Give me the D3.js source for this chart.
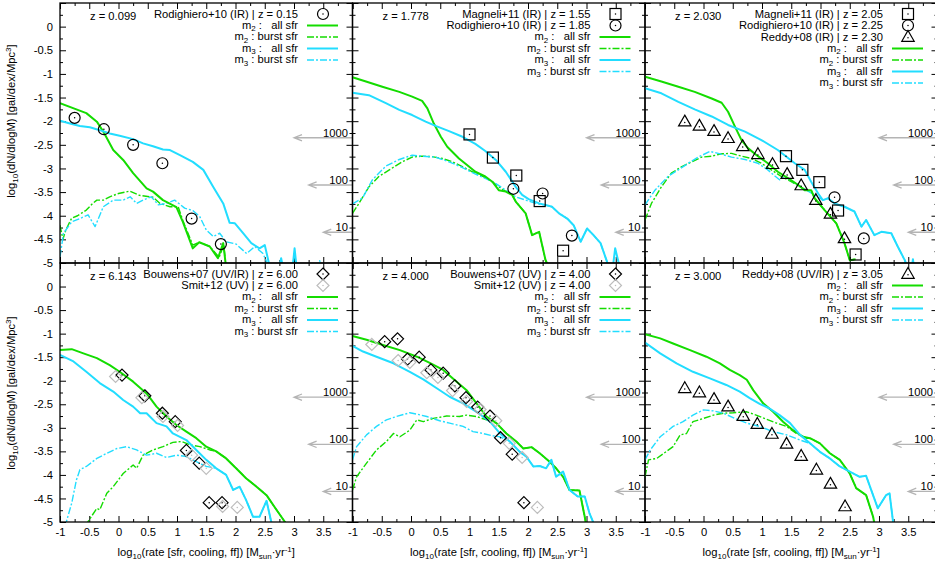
<!DOCTYPE html>
<html><head><meta charset="utf-8">
<script src="https://cdn.jsdelivr.net/npm/d3@7/dist/d3.min.js"></script>
<style>
body{margin:0;background:#fff}
svg text{font-family:"Liberation Sans",Arial,Helvetica,sans-serif;font-size:11.2px;fill:#000;white-space:pre}
</style>
</head><body>
<svg id="chart" width="935" height="563" xml:space="preserve"></svg>
<script>
// ---------------- DATA ----------------
const xTicks = [-1,-0.5,0,0.5,1,1.5,2,2.5,3,3.5,4];
const xTickLabels = [-1,-0.5,0,0.5,1,1.5,2,2.5,3,3.5];
const yTicks = [0.5,0,-0.5,-1,-1.5,-2,-2.5,-3,-3.5,-4,-4.5,-5];
const yTickLabels = [0,-0.5,-1,-1.5,-2,-2.5,-3,-3.5,-4,-4.5,-5];
const countLabels = ["1000","100","10"];
const countLabelY = [-2.25,-3.25,-4.25];
const countArrowY = [-2.35,-3.35,-4.35];
const countArrowHeadX = [3.0,3.25,3.5];

// z = 0.099
const z0099_m2All = [[-1,-1.62],[-0.72,-1.75],[-0.55,-1.83],[-0.37,-2.01],[-0.26,-2.22],[-0.09,-2.61],[0.08,-2.82],[0.25,-3.10],[0.48,-3.42],[0.59,-3.49],[0.76,-3.67],[0.99,-3.82],[1.10,-4.13],[1.27,-4.69],[1.38,-4.56],[1.56,-4.65],[1.70,-4.90],[1.79,-4.58],[1.84,-5.1]];
const z0099_m2Burst = [[-1,-4.20],[-0.95,-4.50],[-0.90,-4.30],[-0.80,-4.05],[-0.70,-4.00],[-0.55,-3.88],[-0.45,-3.75],[-0.37,-3.67],[-0.26,-3.67],[-0.15,-3.60],[0.0,-3.53],[0.19,-3.48],[0.36,-3.57],[0.59,-3.61],[0.71,-3.74],[0.88,-3.81],[1.02,-3.81],[1.10,-4.10],[1.27,-4.62],[1.38,-4.56],[1.56,-4.65],[1.72,-4.88],[1.80,-4.62],[1.84,-5.1]];
const z0099_m3All = [[-1,-1.99],[-0.83,-2.05],[-0.66,-2.10],[-0.49,-2.13],[-0.32,-2.19],[-0.15,-2.26],[0.02,-2.31],[0.25,-2.38],[0.42,-2.47],[0.59,-2.53],[0.76,-2.60],[0.88,-2.61],[1.05,-2.72],[1.27,-2.86],[1.45,-3.03],[1.62,-3.39],[1.79,-3.74],[1.90,-4.15],[1.99,-4.16],[2.13,-4.37],[2.27,-4.58],[2.41,-4.69],[2.50,-4.62],[2.58,-5.05],[2.70,-5.4],[2.78,-4.90],[2.86,-5.4],[2.95,-5.4],[3.01,-4.69],[3.07,-5.4]];
const z0099_m3Burst = [[-1,-4.87],[-0.94,-4.37],[-0.80,-4.13],[-0.66,-4.06],[-0.52,-3.98],[-0.40,-4.23],[-0.26,-3.81],[-0.09,-3.67],[0.08,-3.67],[0.20,-3.60],[0.31,-3.74],[0.42,-3.67],[0.56,-3.60],[0.68,-3.77],[0.82,-3.74],[0.96,-3.67],[1.13,-3.84],[1.27,-3.89],[1.39,-4.02],[1.50,-4.30],[1.62,-4.44],[1.73,-4.37],[1.84,-4.55],[2.01,-4.60],[2.19,-4.80],[2.33,-4.65],[2.47,-4.80],[2.56,-5.05],[2.70,-5.4],[3.40,-5.4],[3.44,-4.95],[3.48,-5.4]];
const rodi015_x = [-0.75,-0.25,0.25,0.75,1.25,1.75];
const rodi015_y = [-1.93,-2.17,-2.50,-2.89,-4.06,-4.60];

// z = 1.778
const z1778_m2All = [[-1,-1.07],[-0.77,-1.16],[-0.49,-1.27],[-0.20,-1.38],[0.02,-1.48],[0.19,-1.57],[0.28,-1.73],[0.39,-2.05],[0.51,-2.33],[0.62,-2.54],[0.82,-2.79],[0.99,-2.96],[1.10,-3.07],[1.27,-3.17],[1.39,-3.28],[1.50,-3.46],[1.62,-3.49],[1.73,-3.56],[1.79,-3.70],[1.96,-3.95],[2.07,-4.41],[2.19,-4.34],[2.30,-4.94],[2.36,-5.1]];
const z1778_m2Burst = [[-1,-3.95],[-0.89,-3.74],[-0.72,-3.39],[-0.55,-3.17],[-0.37,-3.03],[-0.15,-2.86],[0.02,-2.76],[0.19,-2.74],[0.36,-2.75],[0.54,-2.79],[0.71,-2.86],[0.88,-2.96],[1.05,-3.07],[1.22,-3.16],[1.39,-3.28],[1.56,-3.44],[1.73,-3.56],[1.79,-3.70],[1.96,-3.95],[2.07,-4.41],[2.19,-4.34],[2.30,-4.94],[2.36,-5.1]];
const z1778_m3All = [[-1,-1.40],[-0.72,-1.45],[-0.43,-1.62],[-0.20,-1.76],[0.02,-1.87],[0.25,-2.01],[0.42,-2.10],[0.65,-2.21],[0.88,-2.33],[1.10,-2.48],[1.27,-2.63],[1.45,-2.82],[1.62,-3.07],[1.79,-3.39],[1.90,-3.56],[2.01,-3.65],[2.19,-3.74],[2.30,-3.77],[2.41,-3.81],[2.53,-3.95],[2.67,-4.06],[2.78,-4.20],[2.90,-4.55],[3.01,-4.27],[3.12,-4.41],[3.24,-4.58],[3.35,-4.97],[3.42,-5.4],[3.49,-4.69],[3.57,-5.1]];
const z1778_m3Burst = [[-1,-3.75],[-0.83,-3.63],[-0.66,-3.24],[-0.43,-2.95],[-0.20,-2.81],[0.02,-2.72],[0.19,-2.74],[0.42,-2.76],[0.65,-2.86],[0.88,-2.98],[1.05,-3.09],[1.27,-3.21],[1.45,-3.32],[1.62,-3.46],[1.79,-3.60],[1.96,-3.67],[2.13,-3.74],[2.27,-3.77],[2.41,-3.81],[2.53,-3.95],[2.67,-4.06],[2.78,-4.20],[2.90,-4.55],[3.01,-4.27],[3.12,-4.41],[3.24,-4.58],[3.35,-4.97],[3.42,-5.4]];
const magn155_x = [1.0,1.4,1.8,2.2,2.6];
const magn155_y = [-2.28,-2.77,-3.15,-3.69,-4.74];
const rodi185_x = [1.75,2.25,2.75];
const rodi185_y = [-3.43,-3.53,-4.42];

// z = 2.030
const z2030_m2All = [[-1,-1.06],[-0.72,-1.16],[-0.43,-1.27],[-0.15,-1.38],[0.14,-1.52],[0.31,-1.61],[0.42,-1.80],[0.54,-2.12],[0.65,-2.40],[0.76,-2.57],[0.93,-2.74],[1.10,-2.89],[1.27,-3.07],[1.45,-3.21],[1.62,-3.35],[1.73,-3.46],[1.84,-3.46],[1.90,-3.63],[2.07,-3.88],[2.27,-4.16],[2.41,-4.58],[2.50,-4.94],[2.60,-4.92]];
const z2030_m2Burst = [[-1,-4.09],[-0.89,-3.74],[-0.72,-3.39],[-0.55,-3.10],[-0.37,-2.96],[-0.20,-2.86],[-0.03,-2.76],[0.14,-2.74],[0.31,-2.69],[0.48,-2.68],[0.65,-2.74],[0.82,-2.79],[0.99,-2.89],[1.16,-3.03],[1.33,-3.17],[1.50,-3.28],[1.67,-3.40],[1.79,-3.47],[1.84,-3.46],[1.90,-3.63],[2.07,-3.88],[2.27,-4.16],[2.41,-4.58],[2.50,-4.94],[2.60,-4.92]];
const z2030_m3All = [[-1,-1.30],[-0.72,-1.41],[-0.43,-1.59],[-0.15,-1.75],[0.14,-1.90],[0.42,-2.08],[0.71,-2.22],[0.99,-2.40],[1.27,-2.61],[1.56,-2.89],[1.73,-3.03],[1.84,-3.28],[1.96,-3.53],[2.04,-3.67],[2.13,-3.63],[2.24,-3.74],[2.41,-3.81],[2.58,-3.91],[2.70,-4.23],[2.78,-4.09],[2.92,-4.41],[3.04,-4.34],[3.21,-4.37],[3.32,-4.65],[3.44,-4.94],[3.49,-5.08],[3.54,-5.3],[3.58,-4.92],[3.62,-5.3]];
const z2030_m3Burst = [[-1,-3.77],[-0.83,-3.46],[-0.60,-3.16],[-0.43,-3.03],[-0.26,-2.89],[-0.09,-2.76],[0.11,-2.64],[0.25,-2.68],[0.48,-2.76],[0.71,-2.81],[0.93,-2.89],[1.10,-3.03],[1.22,-3.16],[1.30,-3.24],[1.39,-3.17],[1.56,-3.31],[1.73,-3.44],[1.90,-3.56],[2.04,-3.67],[2.13,-3.63],[2.24,-3.74],[2.41,-3.81],[2.58,-3.91],[2.70,-4.23],[2.78,-4.09],[2.92,-4.41],[3.04,-4.34],[3.21,-4.37],[3.32,-4.65],[3.44,-4.94],[3.50,-5.3]];
const magn205_x = [1.41,1.69,1.98,2.30,2.60];
const magn205_y = [-2.74,-3.03,-3.29,-3.89,-4.82];
const rodi225_x = [2.24,2.74];
const rodi225_y = [-3.61,-4.48];
const reddy230_x = [-0.32,-0.07,0.18,0.42,0.67,0.93,1.18,1.43,1.67,1.92,2.17,2.41];
const reddy230_y = [-2.01,-2.10,-2.21,-2.36,-2.53,-2.70,-2.91,-3.12,-3.36,-3.67,-3.96,-4.48];

// z = 6.143
const z6143_m2All = [[-1,-1.35],[-0.80,-1.33],[-0.60,-1.42],[-0.37,-1.52],[-0.15,-1.67],[0.02,-1.81],[0.25,-2.02],[0.48,-2.27],[0.65,-2.55],[0.82,-2.76],[0.99,-2.94],[1.16,-3.08],[1.33,-3.22],[1.50,-3.40],[1.67,-3.50],[1.84,-3.65],[2.01,-3.86],[2.18,-4.07],[2.36,-4.25],[2.53,-4.43],[2.70,-4.74],[2.84,-4.99],[2.90,-5.1]];
const z6143_m2Burst = [[-0.55,-5.1],[-0.52,-4.99],[-0.37,-4.71],[-0.32,-4.74],[-0.20,-4.39],[-0.09,-4.25],[0.08,-3.97],[0.25,-3.79],[0.31,-3.86],[0.42,-3.58],[0.59,-3.47],[0.76,-3.40],[0.93,-3.31],[1.08,-3.29],[1.22,-3.36],[1.39,-3.40],[1.56,-3.47],[1.67,-3.50],[1.84,-3.65],[2.01,-3.86],[2.18,-4.07],[2.36,-4.25],[2.53,-4.43],[2.70,-4.74],[2.84,-4.99],[2.90,-5.1]];
const z6143_m3All = [[-1,-1.45],[-0.77,-1.59],[-0.55,-1.81],[-0.32,-2.05],[-0.09,-2.23],[0.08,-2.41],[0.25,-2.55],[0.37,-2.69],[0.48,-2.69],[0.65,-2.90],[0.82,-2.97],[0.93,-3.12],[1.16,-3.26],[1.33,-3.47],[1.50,-3.68],[1.67,-3.86],[1.84,-4.00],[1.96,-4.32],[2.07,-4.25],[2.18,-4.53],[2.30,-4.89],[2.41,-4.89],[2.53,-4.55],[2.61,-4.99],[2.65,-5.1]];
const z6143_m3Burst = [[-0.90,-5.1],[-0.89,-4.99],[-0.80,-4.60],[-0.72,-4.11],[-0.66,-3.89],[-0.55,-3.82],[-0.37,-3.65],[-0.20,-3.54],[-0.03,-3.44],[0.14,-3.40],[0.31,-3.47],[0.48,-3.58],[0.65,-3.54],[0.82,-3.63],[0.99,-3.58],[1.16,-3.61],[1.33,-3.72],[1.50,-3.82],[1.67,-3.86],[1.84,-4.00],[1.96,-4.32],[2.07,-4.25],[2.18,-4.53],[2.30,-4.89],[2.41,-4.89],[2.53,-4.55],[2.61,-4.99],[2.65,-5.1]];
const bouw600_x = [0.06,0.45,0.75,0.97,1.16,1.38,1.55,1.77];
const bouw600_y = [-1.88,-2.32,-2.69,-2.87,-3.48,-3.75,-4.59,-4.59];
const smit600_x = [-0.05,0.40,0.76,1.01,1.25,1.50,1.78,2.03];
const smit600_y = [-1.91,-2.36,-2.76,-2.95,-3.58,-3.86,-4.67,-4.69];

// z = 4.000
const z4000_m2All = [[-1,-1.05],[-0.76,-1.13],[-0.48,-1.24],[-0.19,-1.35],[0.10,-1.49],[0.32,-1.62],[0.55,-1.77],[0.78,-2.02],[0.95,-2.20],[1.12,-2.48],[1.29,-2.76],[1.46,-2.90],[1.63,-3.12],[1.80,-3.29],[1.92,-3.44],[2.06,-3.41],[2.20,-3.54],[2.37,-3.72],[2.48,-3.86],[2.60,-4.04],[2.71,-4.32],[2.88,-4.33],[2.97,-4.89],[3.00,-5.1]];
const z4000_m2Burst = [[-1,-4.32],[-0.93,-4.04],[-0.76,-3.75],[-0.59,-3.47],[-0.42,-3.29],[-0.30,-3.12],[-0.19,-3.19],[-0.02,-3.05],[0.10,-2.83],[0.21,-2.87],[0.38,-2.80],[0.61,-2.75],[0.83,-2.76],[0.95,-2.73],[1.12,-2.76],[1.29,-2.83],[1.46,-2.90],[1.63,-3.12],[1.80,-3.29],[1.92,-3.44],[2.06,-3.41],[2.20,-3.54],[2.37,-3.72],[2.48,-3.86],[2.60,-4.04],[2.71,-4.32],[2.88,-4.33],[2.97,-4.89],[3.00,-5.1]];
const z4000_m3All = [[-1,-1.26],[-0.82,-1.38],[-0.59,-1.49],[-0.30,-1.63],[-0.02,-1.81],[0.21,-1.97],[0.44,-2.16],[0.66,-2.34],[0.89,-2.48],[1.12,-2.66],[1.35,-2.87],[1.52,-3.12],[1.69,-3.29],[1.86,-3.51],[1.97,-3.61],[2.09,-3.82],[2.20,-3.81],[2.31,-3.86],[2.40,-3.68],[2.48,-4.04],[2.60,-3.93],[2.71,-4.32],[2.85,-4.46],[2.97,-4.46],[3.05,-4.81],[3.11,-4.99],[3.13,-5.1]];
const z4000_m3Burst = [[-1,-3.68],[-0.93,-3.40],[-0.76,-3.15],[-0.59,-2.97],[-0.42,-2.83],[-0.25,-2.76],[-0.02,-2.68],[0.10,-2.71],[0.27,-2.76],[0.49,-2.85],[0.66,-2.90],[0.89,-2.97],[1.06,-3.08],[1.23,-3.12],[1.40,-3.17],[1.52,-3.19],[1.69,-3.29],[1.86,-3.51],[1.97,-3.61],[2.09,-3.82],[2.20,-3.81],[2.31,-3.86],[2.40,-3.68],[2.48,-4.04],[2.60,-3.93],[2.71,-4.32],[2.85,-4.46],[2.97,-4.46],[3.05,-4.81],[3.11,-4.99],[3.13,-5.1]];
const bouw400_x = [-0.45,-0.23,-0.06,0.14,0.34,0.55,0.75,0.94,1.14,1.35,1.53,1.73,1.93];
const bouw400_y = [-1.17,-1.11,-1.54,-1.50,-1.77,-1.84,-2.11,-2.36,-2.56,-2.75,-3.21,-3.56,-4.59];
const smit400_x = [-0.67,-0.22,-0.02,0.27,0.46,0.71,0.95,1.18,1.45,1.68,1.90,2.16];
const smit400_y = [-1.23,-1.57,-1.61,-1.83,-1.93,-2.21,-2.44,-2.61,-2.85,-3.33,-3.63,-4.69];

// z = 3.000
const z3000_m2All = [[-1,-1.01],[-0.74,-1.10],[-0.52,-1.21],[-0.23,-1.35],[0.05,-1.49],[0.28,-1.63],[0.45,-1.77],[0.62,-1.88],[0.74,-1.98],[0.85,-2.20],[1.02,-2.48],[1.19,-2.66],[1.36,-2.87],[1.53,-3.05],[1.70,-3.19],[1.82,-3.22],[1.99,-3.33],[2.16,-3.54],[2.33,-3.68],[2.50,-3.97],[2.61,-4.28],[2.78,-4.43],[2.90,-4.89],[2.93,-5.1]];
const z3000_m2Burst = [[-1,-4.04],[-0.94,-3.68],[-0.80,-3.65],[-0.52,-3.40],[-0.40,-3.15],[-0.29,-3.12],[-0.18,-2.87],[0.00,-2.80],[0.17,-2.73],[0.34,-2.69],[0.51,-2.68],[0.74,-2.66],[0.90,-2.73],[1.08,-2.82],[1.25,-2.90],[1.42,-2.97],[1.59,-3.12],[1.76,-3.22],[1.82,-3.22],[1.99,-3.33],[2.16,-3.54],[2.33,-3.68],[2.50,-3.97],[2.61,-4.28],[2.78,-4.43],[2.90,-4.89],[2.93,-5.1]];
const z3000_m3All = [[-1,-1.19],[-0.74,-1.42],[-0.46,-1.63],[-0.18,-1.81],[0.11,-1.95],[0.39,-2.09],[0.62,-2.23],[0.79,-2.37],[0.96,-2.49],[1.13,-2.59],[1.30,-2.73],[1.48,-2.90],[1.65,-3.15],[1.82,-3.33],[1.99,-3.51],[2.16,-3.65],[2.33,-3.82],[2.50,-3.93],[2.67,-4.04],[2.78,-4.02],[2.98,-4.71],[3.12,-4.43],[3.18,-4.39],[3.24,-4.99],[3.26,-5.1]];
const z3000_m3Burst = [[-1,-3.68],[-0.91,-3.47],[-0.74,-3.19],[-0.52,-2.97],[-0.35,-2.87],[-0.18,-2.73],[0.00,-2.62],[0.17,-2.64],[0.34,-2.69],[0.57,-2.82],[0.74,-2.90],[0.96,-2.97],[1.19,-3.08],[1.42,-3.15],[1.65,-3.26],[1.82,-3.33],[1.99,-3.51],[2.16,-3.65],[2.33,-3.82],[2.50,-3.93],[2.67,-4.04],[2.78,-4.02],[2.98,-4.71],[3.12,-4.43],[3.18,-4.39],[3.24,-4.99],[3.26,-5.1]];
const reddy305_x = [-0.32,-0.07,0.18,0.42,0.68,0.92,1.17,1.42,1.67,1.93,2.17,2.42];
const reddy305_y = [-2.16,-2.25,-2.39,-2.55,-2.75,-2.92,-3.13,-3.34,-3.60,-3.89,-4.19,-4.67];

// ---------------- STYLE / LAYOUT ----------------
const GREEN = "#14dc00", CYAN = "#22ddff", GREY = "#b4b4b4", LGREY = "#bdbdbd";
const W = 292.5;
const colX = [60, 352.5, 645];
const rowY = [[3, 263], [263, 522]];

const panels = [
  {col:0,row:0,z:"0.099",m2All:z0099_m2All,m2Burst:z0099_m2Burst,m3All:z0099_m3All,m3Burst:z0099_m3Burst,
   obs:[{label:"Rodighiero+10 (IR) | z = 0.15",sym:"circle",color:"#000",x:rodi015_x,y:rodi015_y}]},
  {col:1,row:0,z:"1.778",m2All:z1778_m2All,m2Burst:z1778_m2Burst,m3All:z1778_m3All,m3Burst:z1778_m3Burst,
   obs:[{label:"Magneli+11 (IR) | z = 1.55",sym:"square",color:"#000",x:magn155_x,y:magn155_y},
        {label:"Rodighiero+10 (IR) | z = 1.85",sym:"circle",color:"#000",x:rodi185_x,y:rodi185_y}]},
  {col:2,row:0,z:"2.030",m2All:z2030_m2All,m2Burst:z2030_m2Burst,m3All:z2030_m3All,m3Burst:z2030_m3Burst,
   obs:[{label:"Magneli+11 (IR) | z = 2.05",sym:"square",color:"#000",x:magn205_x,y:magn205_y},
        {label:"Rodighiero+10 (IR) | z = 2.25",sym:"circle",color:"#000",x:rodi225_x,y:rodi225_y},
        {label:"Reddy+08 (IR) | z = 2.30",sym:"triangle",color:"#000",x:reddy230_x,y:reddy230_y}]},
  {col:0,row:1,z:"6.143",m2All:z6143_m2All,m2Burst:z6143_m2Burst,m3All:z6143_m3All,m3Burst:z6143_m3Burst,
   obs:[{label:"Bouwens+07 (UV/IR) | z = 6.00",sym:"diamond",color:"#000",x:bouw600_x,y:bouw600_y},
        {label:"Smit+12 (UV) | z = 6.00",sym:"diamond",color:LGREY,x:smit600_x,y:smit600_y}]},
  {col:1,row:1,z:"4.000",m2All:z4000_m2All,m2Burst:z4000_m2Burst,m3All:z4000_m3All,m3Burst:z4000_m3Burst,
   obs:[{label:"Bouwens+07 (UV) | z = 4.00",sym:"diamond",color:"#000",x:bouw400_x,y:bouw400_y},
        {label:"Smit+12 (UV) | z = 4.00",sym:"diamond",color:LGREY,x:smit400_x,y:smit400_y}]},
  {col:2,row:1,z:"3.000",m2All:z3000_m2All,m2Burst:z3000_m2Burst,m3All:z3000_m3All,m3Burst:z3000_m3Burst,
   obs:[{label:"Reddy+08 (UV/IR) | z = 3.05",sym:"triangle",color:"#000",x:reddy305_x,y:reddy305_y}]}
];

const svg = d3.select("#chart");
const fmt = d => String(d);

function marker(g, sym, cx, cy, color){
  const s = g.append("g").attr("transform",`translate(${cx},${cy})`);
  let el;
  if(sym==="circle") el = s.append("circle").attr("r",5.5);
  else if(sym==="square") el = s.append("rect").attr("x",-5.5).attr("y",-5.5).attr("width",11).attr("height",11);
  else if(sym==="triangle") el = s.append("path").attr("d","M0,-6.5L6.2,4.3L-6.2,4.3Z");
  else el = s.append("path").attr("d","M0,-6L6,0L0,6L-6,0Z");
  el.attr("fill","none").attr("stroke",color).attr("stroke-width",1.2);
  s.append("circle").attr("cx",0).attr("cy",sym==="triangle"?0.8:0).attr("r",0.75).attr("fill",color);
}

function modelLabel(t, idx, kind){
  t.append("tspan").text("m");
  t.append("tspan").attr("dy",2.5).style("font-size","8px").text(idx);
  t.append("tspan").attr("dy",-2.5).text(kind==="all" ? " :   all sfr" : " : burst sfr");
}

const defs = svg.append("defs");

panels.forEach((p,pi)=>{
  const x0 = colX[p.col], x1 = x0 + W;
  const [yt, yb] = rowY[p.row];
  const x = d3.scaleLinear().domain([-1,4]).range([x0,x1]);
  const y = d3.scaleLinear().domain([-5,0.5]).range([yb,yt]);
  const g = svg.append("g");

  defs.append("clipPath").attr("id","clip"+pi).append("rect")
    .attr("x",x0).attr("y",yt).attr("width",W).attr("height",yb-yt);

  // axes (inward ticks)
  const minorX = d3.range(-0.75,4,0.5), minorY = d3.range(-4.75,0.5,0.5);
  const styleAxis = sel => { sel.select(".domain").remove(); sel.selectAll("line").attr("stroke","#000").attr("stroke-width",1);
    sel.attr("font-size",null).attr("font-family",null); };
  g.append("g").attr("transform",`translate(${x0},0)`)
    .call(d3.axisLeft(y).tickValues(yTicks).tickSize(-6).tickPadding(7)
      .tickFormat(d => (p.col===0 && yTickLabels.includes(d)) ? fmt(d) : "")).call(styleAxis);
  g.append("g").attr("transform",`translate(${x0},0)`).call(d3.axisLeft(y).tickValues(minorY).tickSize(-3).tickFormat("")).call(styleAxis);
  g.append("g").attr("transform",`translate(${x1},0)`).call(d3.axisRight(y).tickValues(yTicks).tickSize(-6).tickFormat("")).call(styleAxis);
  g.append("g").attr("transform",`translate(${x1},0)`).call(d3.axisRight(y).tickValues(minorY).tickSize(-3).tickFormat("")).call(styleAxis);
  g.append("g").attr("transform",`translate(0,${yt})`).call(d3.axisTop(x).tickValues(xTicks).tickSize(-6).tickFormat("")).call(styleAxis);
  g.append("g").attr("transform",`translate(0,${yt})`).call(d3.axisTop(x).tickValues(minorX).tickSize(-3).tickFormat("")).call(styleAxis);
  g.append("g").attr("transform",`translate(0,${yb})`)
    .call(d3.axisBottom(x).tickValues(xTicks).tickSize(-6).tickPadding(6)
      .tickFormat(d => (p.row===1 && xTickLabels.includes(d)) ? fmt(d) : "")).call(styleAxis);
  g.append("g").attr("transform",`translate(0,${yb})`).call(d3.axisBottom(x).tickValues(minorX).tickSize(-3).tickFormat("")).call(styleAxis);

  // count labels and arrows
  countLabels.forEach((lab,i)=>{
    const ay = y(countArrowY[i]), hx = x(countArrowHeadX[i]);
    g.append("path").attr("d",`M${x1},${ay}L${hx},${ay}M${hx+8},${ay-3.2}L${hx},${ay}L${hx+8},${ay+3.2}`)
      .attr("fill","none").attr("stroke",GREY).attr("stroke-width",1.3);
    g.append("text").attr("x",x1-4.5).attr("y",y(countLabelY[i])).attr("dy","0.33em")
      .attr("text-anchor","end").text(lab);
  });

  // curves
  const line = d3.line().x(d=>x(d[0])).y(d=>y(d[1]));
  const cg = g.append("g").attr("clip-path",`url(#clip${pi})`);
  const series = [
    {d:p.m2Burst,c:GREEN,dash:"7,2,2,2",w:1.4},
    {d:p.m3Burst,c:CYAN,dash:"7,2,2,2",w:1.4},
    {d:p.m2All,c:GREEN,dash:null,w:2},
    {d:p.m3All,c:CYAN,dash:null,w:2}
  ];
  series.forEach(s=>{
    cg.append("path").datum(s.d).attr("d",line).attr("fill","none").attr("stroke",s.c)
      .attr("stroke-width",s.w).attr("stroke-dasharray",s.dash).attr("stroke-linejoin","round");
  });

  // observations
  p.obs.forEach(o=>{
    o.x.forEach((xv,i)=>marker(g,o.sym,x(xv),y(o.y[i]),o.color));
  });

  // border
  g.append("rect").attr("x",x0).attr("y",yt).attr("width",W).attr("height",yb-yt)
    .attr("fill","none").attr("stroke","#000").attr("stroke-width",1.3);

  // redshift label
  g.append("text").attr("x",x0+30).attr("y",yt+16.5).text("z = "+p.z);

  // legend
  const tx = x1-54.5, sx = x1-29.5;
  let row = 0;
  const rowYpos = r => yt + 11 + r*11.5;
  p.obs.forEach(o=>{
    const cy = rowYpos(row++);
    g.append("text").attr("x",tx).attr("y",cy).attr("dy","0.35em").attr("text-anchor","end").text(o.label);
    marker(g,o.sym,sx,cy,o.color);
  });
  [["2","all",GREEN,null,2],["2","burst",GREEN,"7,2,2,2",1.4],["3","all",CYAN,null,2],["3","burst",CYAN,"7,2,2,2",1.4]].forEach(e=>{
    const cy = rowYpos(row++);
    const t = g.append("text").attr("x",tx).attr("y",cy).attr("dy","0.3em").attr("text-anchor","end");
    modelLabel(t,e[0],e[1]);
    g.append("line").attr("x1",x1-45.5).attr("x2",x1-14.5).attr("y1",cy).attr("y2",cy)
      .attr("stroke",e[2]).attr("stroke-width",e[4]).attr("stroke-dasharray",e[3]);
  });

  // axis titles
  if(p.col===0){
    const t = g.append("text").attr("text-anchor","middle")
      .attr("transform",`translate(15,${p.row===0?121:393}) rotate(-90)`);
    t.append("tspan").text("log");
    t.append("tspan").attr("dy",3).style("font-size","8px").text("10");
    t.append("tspan").attr("dy",-3).text("(dN/dlogM) [gal/dex/Mpc");
    t.append("tspan").attr("dy",-4).style("font-size","8px").text("3");
    t.append("tspan").attr("dy",4).text("]");
  }
  if(p.row===1){
    const t = g.append("text").attr("text-anchor","middle").attr("x",(x0+x1)/2).attr("y",556);
    t.append("tspan").text("log");
    t.append("tspan").attr("dy",3).style("font-size","8px").text("10");
    t.append("tspan").attr("dy",-3).text("(rate [sfr, cooling, ff]) [M");
    t.append("tspan").attr("dy",3).style("font-size","8px").text("sun");
    t.append("tspan").attr("dy",-3).text("\u00b7yr");
    t.append("tspan").attr("dy",-4).style("font-size","8px").text("-1");
    t.append("tspan").attr("dy",4).text("]");
  }
});
</script>
</body></html>
